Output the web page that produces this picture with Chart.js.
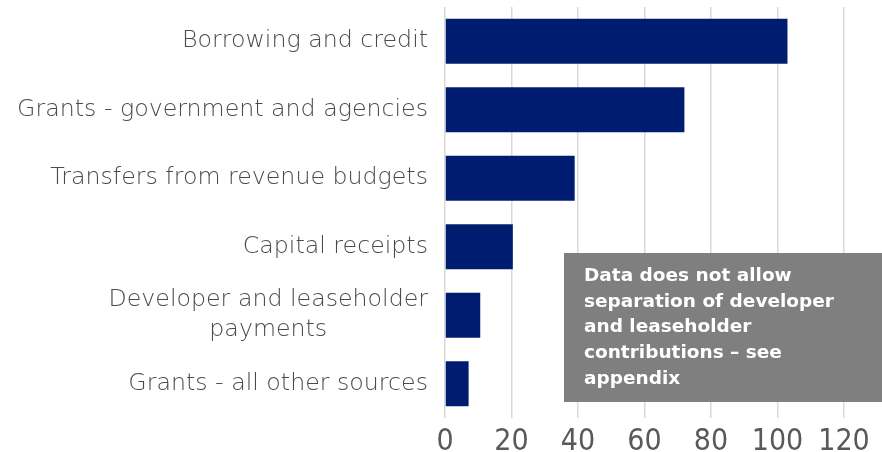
<!DOCTYPE html>
<html>
<head>
<meta charset="utf-8">
<script src="https://cdn.jsdelivr.net/npm/chart.js@4"></script>
<style>
  html, body { margin: 0; padding: 0; background: #fff; }
  #wrap { width: 882px; height: 452px; position: relative; }
</style>
</head>
<body>
<div id="wrap"><canvas id="fundingChart"></canvas></div>
<script>
const categories = [
    'Borrowing and credit',
    'Grants - government and agencies',
    'Transfers from revenue budgets',
    'Capital receipts',
    ['Developer and leaseholder', 'payments'],
    'Grants - all other sources'
];
const amounts = [103, 72, 39, 20.4, 10.6, 7.1];
const xTicks = [0, 20, 40, 60, 80, 100, 120];
const noteLines = [
    'Data does not allow',
    'separation of developer',
    'and leaseholder',
    'contributions \u2013 see',
    'appendix'
];

const labelFont = '200 23.7px "DejaVu Sans", sans-serif';
const labelColor = '#4a4a4a';

// category labels drawn by hand so multi-line ones are centred like Excel
const categoryLabels = {
    id: 'categoryLabels',
    afterDraw(chart) {
        const c = chart.ctx;
        const ys = chart.scales.y;
        c.save();
        c.font = labelFont;
        c.fillStyle = labelColor;
        c.textBaseline = 'middle';
        c.textAlign = 'center';
        const right = 428, lh = 30;
        categories.forEach((lab, i) => {
            const lines = Array.isArray(lab) ? lab : [lab];
            const w = Math.max(...lines.map(l => c.measureText(l).width));
            const cx = right - w / 2;
            const yc = ys.getPixelForValue(i);
            lines.forEach((l, j) => {
                c.fillText(l, cx, yc + (j - (lines.length - 1) / 2) * lh);
            });
        });
        c.restore();
    }
};

// grey note box
const noteBox = {
    id: 'noteBox',
    afterDraw(chart) {
        const c = chart.ctx;
        c.save();
        c.fillStyle = '#7f7f7f';
        c.fillRect(564, 253, 318, 149);
        c.fillStyle = '#ffffff';
        c.font = 'bold 18.5px "DejaVu Sans", sans-serif';
        c.textAlign = 'left';
        c.textBaseline = 'middle';
        noteLines.forEach((l, i) => c.fillText(l, 584, 276 + i * 25.7));
        c.restore();
    }
};

new Chart(document.getElementById('fundingChart'), {
    type: 'bar',
    data: {
        labels: categories,
        datasets: [{
            data: amounts,
            backgroundColor: '#001c71',
            borderWidth: 0,
            barPercentage: 0.66,
            categoryPercentage: 1
        }]
    },
    options: {
        indexAxis: 'y',
        responsive: true,
        maintainAspectRatio: false,
        animation: false,
        layout: { padding: { top: 7, right: 38, left: 0, bottom: 0 } },
        plugins: {
            legend: { display: false },
            tooltip: { enabled: false }
        },
        scales: {
            x: {
                min: 0,
                max: 120,
                afterBuildTicks: (s) => { s.ticks = xTicks.map(v => ({ value: v })); },
                afterFit: (s) => { s.height = 34; },
                border: { display: false },
                grid: { color: '#d9d9d9', lineWidth: 1.5, drawTicks: false },
                ticks: {
                    color: '#595959',
                    padding: 6,
                    font: { family: '"Liberation Sans Narrow", "DejaVu Sans Condensed", sans-serif', size: 30 }
                }
            },
            y: {
                afterFit: (s) => { s.width = 445; },
                border: { display: false },
                grid: { display: false },
                ticks: { display: false }
            }
        }
    },
    plugins: [categoryLabels, noteBox]
});
</script>
</body>
</html>
